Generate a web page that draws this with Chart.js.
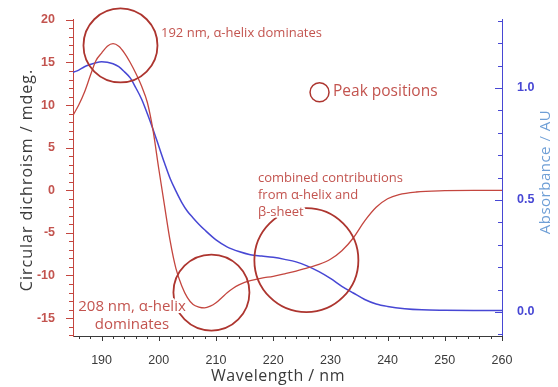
<!DOCTYPE html>
<html>
<head>
<meta charset="utf-8">
<script src="https://cdn.jsdelivr.net/npm/chart.js@4.4.1/dist/chart.umd.min.js"></script>
<style>
  html, body { margin: 0; padding: 0; background: #ffffff; }
  #wrap { position: relative; width: 558px; height: 387px; }
</style>
</head>
<body>
<div id="wrap"><canvas id="cd"></canvas></div>
<script>
// Circular dichroism spectrum (mdeg) vs wavelength (nm)
const cdWavelength = [185,186,187,188,189,190,191,192,193,194,195,196,197,198,199,200,201,202,203,204,205,206,207,208,209,210,211,212,213,214,215,216,218,220,222,224,226,228,230,232,234,236,238,240,242,245,250,255,260];
const cdValues     = [8.8,10.0,11.5,13.4,15.2,16.1,16.9,17.2,16.9,16.1,15.0,13.7,12.2,10.3,7.0,2.5,-1.8,-6.0,-9.2,-11.2,-12.6,-13.4,-13.7,-13.8,-13.6,-13.2,-12.6,-12.0,-11.5,-11.1,-10.8,-10.6,-10.3,-10.1,-9.8,-9.5,-9.1,-8.7,-8.1,-7.1,-5.6,-3.6,-2.0,-1.0,-0.5,-0.2,-0.05,0,0];

// Absorbance spectrum (AU) vs wavelength (nm)
const absWavelength = [185,186,187,188,189,190,191,192,193,194,195,196,197,198,199,200,201,202,203,204,205,206,207,208,210,212,214,216,218,220,222,224,226,228,230,232,234,236,238,240,243,246,250,255,260];
const absValues     = [1.07,1.08,1.095,1.105,1.113,1.117,1.115,1.108,1.095,1.072,1.045,1.0,0.95,0.885,0.815,0.74,0.665,0.595,0.54,0.49,0.45,0.42,0.392,0.367,0.322,0.29,0.27,0.256,0.25,0.244,0.235,0.224,0.205,0.18,0.15,0.115,0.085,0.056,0.036,0.025,0.015,0.01,0.008,0.007,0.007];

// Axis tick values
const xTicks   = [190,200,210,220,230,240,250,260];
const cdTicks  = [-15,-10,-5,0,5,10,15,20];
const absTicks = [0.0,0.5,1.0];

// Annotation labels
const note192 = ['192 nm, \u03b1-helix dominates'];
const note208 = ['208 nm, \u03b1-helix', 'dominates'];
const noteMixed = ['combined contributions', 'from \u03b1-helix and', '\u03b2-sheet'];
const legendNote = 'Peak positions';

const RED = '#c4463f';
const RED_DARK = '#ad352f';
const RED_TEXT = '#c3544f';
const BLUE = '#4747d4';
const BLUE_TITLE = '#6f9fd6';
const GREY = '#3a3a3a';

const pts = (xs, ys) => xs.map((x, i) => ({ x: x, y: ys[i] }));

// Tick marks, peak circles and labels drawn over the plot
const decorations = {
  id: 'decorations',
  afterDraw(chart) {
    const { ctx, chartArea: a, scales } = chart;
    const sx = scales.x, sy = scales.y, sa = scales.y1;
    ctx.save();
    ctx.lineWidth = 1;

    // left axis: major every 5, minor every 1 (pointing out)
    ctx.strokeStyle = RED;
    for (let v = -17; v <= 20; v++) {
      const y = Math.round(sy.getPixelForValue(v)) + 0.5;
      const len = v % 5 === 0 ? 7 : 4;
      ctx.beginPath(); ctx.moveTo(a.left - len, y); ctx.lineTo(a.left, y); ctx.stroke();
    }
    // right axis: major every 0.5, minor every 0.1 (pointing in)
    ctx.strokeStyle = BLUE;
    for (let k = -1; k <= 13; k++) {
      const y = Math.round(sa.getPixelForValue(k / 10)) + 0.5;
      const len = k % 5 === 0 ? 7 : 4;
      ctx.beginPath(); ctx.moveTo(a.right, y); ctx.lineTo(a.right - len, y); ctx.stroke();
    }
    // bottom axis: major every 10, minor every 2
    ctx.strokeStyle = GREY;
    for (let v = 186; v <= 260; v += 2) {
      const x = Math.round(sx.getPixelForValue(v)) + 0.5;
      const len = v % 10 === 0 ? 5 : 3;
      ctx.beginPath(); ctx.moveTo(x, a.bottom); ctx.lineTo(x, a.bottom + len); ctx.stroke();
    }

    const P = (wl, cd) => [sx.getPixelForValue(wl), sy.getPixelForValue(cd)];

    // peak circles
    ctx.strokeStyle = RED_DARK;
    const circles = [
      { c: P(193.3, 17.0), r: 37, w: 1.8 },
      { c: P(209.2, -12.0), r: 38, w: 1.8 },
      { c: P(225.8, -8.2), r: 52, w: 1.8 },
      { c: P(228.1, 11.5), r: 9.5, w: 1.5 }
    ];
    circles.forEach(o => {
      ctx.lineWidth = o.w;
      ctx.beginPath(); ctx.arc(o.c[0], o.c[1], o.r, 0, Math.PI * 2); ctx.stroke();
    });

    // annotation text
    ctx.fillStyle = RED_TEXT;
    ctx.textBaseline = 'middle';
    const drawLines = (lines, x, y, step, align, size) => {
      ctx.font = size + 'px "Open Sans"';
      ctx.textAlign = align;
      lines.forEach((t, i) => {
        ctx.save();
        ctx.strokeStyle = '#ffffff'; ctx.lineWidth = 4; ctx.lineJoin = 'round';
        ctx.strokeText(t, x, y + i * step);
        ctx.restore();
        ctx.fillText(t, x, y + i * step);
      });
    };
    drawLines(note192, 161, 33, 17, 'left', 13);
    drawLines(note208, 132, 307, 18, 'center', 15);
    drawLines(noteMixed, 258, 178, 17, 'left', 13);
    drawLines([legendNote], 333, 92, 17, 'left', 15.5);

    // axis titles
    ctx.fillStyle = GREY;
    ctx.textAlign = 'center';
    ctx.font = '16px "Open Sans"';
    ctx.letterSpacing = '0.5px';
    ctx.fillText('Wavelength / nm', 278, 376);
    ctx.save();
    ctx.letterSpacing = '1px';
    ctx.translate(27, 180);
    ctx.rotate(-Math.PI / 2);
    ctx.fillText('Circular dichroism / mdeg.', 0, 0);
    ctx.restore();
    ctx.save();
    ctx.fillStyle = BLUE_TITLE;
    ctx.font = '15px "Open Sans"';
    ctx.letterSpacing = '0.5px';
    ctx.translate(546, 172);
    ctx.rotate(-Math.PI / 2);
    ctx.fillText('Absorbance / AU', 0, 0);
    ctx.restore();

    ctx.restore();
  }
};

new Chart(document.getElementById('cd'), {
  type: 'line',
  data: {
    datasets: [
      {
        label: 'CD',
        data: pts(cdWavelength, cdValues),
        yAxisID: 'y',
        borderColor: RED,
        borderWidth: 1.3,
        pointRadius: 0,
        cubicInterpolationMode: 'monotone',
        fill: false
      },
      {
        label: 'Absorbance',
        data: pts(absWavelength, absValues),
        yAxisID: 'y1',
        borderColor: BLUE,
        borderWidth: 1.5,
        pointRadius: 0,
        cubicInterpolationMode: 'monotone',
        fill: false
      }
    ]
  },
  options: {
    responsive: true,
    maintainAspectRatio: false,
    animation: false,
    devicePixelRatio: 1,
    layout: { padding: { top: 19, left: 0, right: 0, bottom: 0 } },
    plugins: { legend: { display: false }, tooltip: { enabled: false } },
    scales: {
      x: {
        type: 'linear',
        min: 185, max: 260,
        afterBuildTicks: s => { s.ticks = xTicks.map(v => ({ value: v })); },
        afterFit: s => { s.height = 51; },
        grid: { display: false },
        border: { display: true, color: GREY, width: 1 },
        ticks: { color: GREY, padding: 9, font: { family: 'Liberation Sans', size: 12.5 }, maxRotation: 0 }
      },
      y: {
        type: 'linear',
        position: 'left',
        min: -17.1, max: 20.1,
        afterBuildTicks: s => { s.ticks = cdTicks.map(v => ({ value: v })); },
        afterFit: s => { s.width = 73; },
        grid: { display: false },
        border: { display: true, color: RED, width: 1 },
        ticks: { color: RED_TEXT, padding: 10, font: { family: 'Liberation Sans', size: 12.5, weight: 'bold' } }
      },
      y1: {
        type: 'linear',
        position: 'right',
        min: -0.107, max: 1.308,
        afterBuildTicks: s => { s.ticks = absTicks.map(v => ({ value: v })); },
        afterFit: s => { s.width = 56; },
        grid: { display: false },
        border: { display: true, color: BLUE, width: 1 },
        ticks: {
          color: BLUE, padding: 7,
          font: { family: 'Liberation Sans', size: 12.5, weight: 'bold' },
          callback: v => Number(v).toFixed(1)
        }
      }
    }
  },
  plugins: [decorations]
});
</script>
</body>
</html>
